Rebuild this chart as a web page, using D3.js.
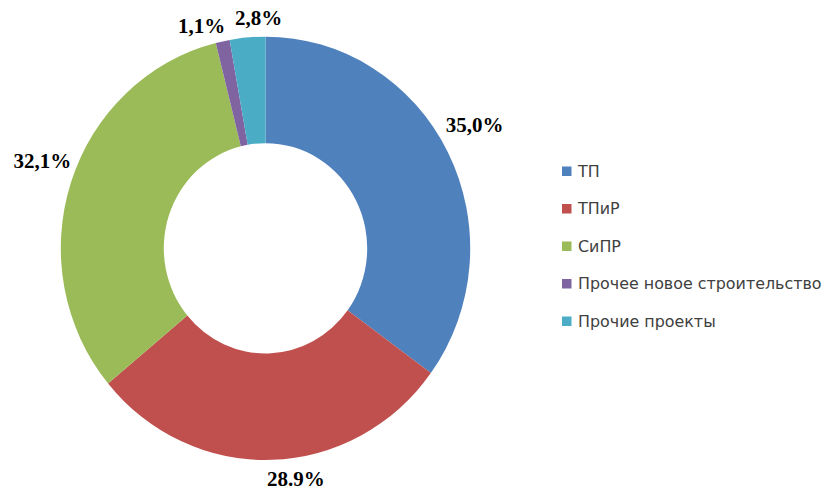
<!DOCTYPE html>
<html><head><meta charset="utf-8">
<script src="https://cdn.jsdelivr.net/npm/d3@7"></script>
<style>body{margin:0;background:#fff}svg{display:block}</style>
</head><body>
<svg id="c" width="827" height="490"></svg>
<script>
const categories = ["ТП", "ТПиР", "СиПР", "Прочее новое строительство", "Прочие проекты"];
const values = [35.0, 28.9, 32.1, 1.1, 2.8];
const valueLabels = ["35,0%", "28.9%", "32,1%", "1,1%", "2,8%"];
const colors = ["#4F81BD", "#C0504D", "#9BBB59", "#8064A2", "#4BACC6"];
// label nudges (px) relative to the label ring
const labelNudge = [[-3, -12], [23, -16], [3, -11], [-14, 18], [14, 14]];

const svg = d3.select("#c");
const cx = 265.5, cy = 248.3, sy = 1.034;
const outerR = 204.7, innerR = 101.7, labelR = 238;

const pie = d3.pie().sort(null).value(d => d);
const arcs = pie(values);
const arc = d3.arc().innerRadius(innerR).outerRadius(outerR);

const g = svg.append("g").attr("transform", `translate(${cx},${cy}) scale(1,${sy})`);
g.selectAll("path").data(arcs).join("path")
  .attr("d", arc)
  .attr("fill", (d, i) => colors[i]);

const labelArc = d3.arc().innerRadius(labelR).outerRadius(labelR);
svg.append("g").selectAll("text").data(arcs).join("text")
  .attr("x", (d, i) => cx + labelArc.centroid(d)[0] + labelNudge[i][0])
  .attr("y", (d, i) => cy + labelArc.centroid(d)[1] * sy + labelNudge[i][1])
  .attr("text-anchor", "middle")
  .attr("dy", "0.35em")
  .attr("font-family", "'Liberation Serif', 'Times New Roman', serif")
  .attr("font-weight", "bold")
  .attr("font-size", 21)
  .attr("fill", "#000")
  .text((d, i) => valueLabels[i]);

const legendY = d3.scalePoint().domain(categories).range([171, 321]);
const lg = svg.append("g");
const items = lg.selectAll("g").data(categories).join("g")
  .attr("transform", d => `translate(562,${legendY(d)})`);
items.append("rect").attr("x", 0).attr("y", -4.5).attr("width", 9.5).attr("height", 9.5)
  .attr("fill", (d, i) => colors[i]);
items.append("text").attr("x", 16).attr("dy", "0.35em")
  .attr("font-family", "'DejaVu Sans', sans-serif")
  .attr("font-size", 15.9)
  .attr("fill", "#404040")
  .text(d => d);
</script>
</body></html>
